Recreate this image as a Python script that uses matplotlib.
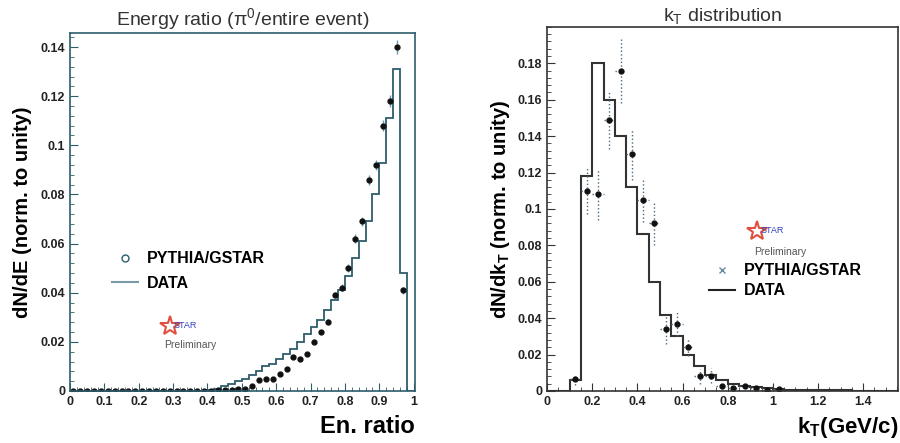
import numpy as np
import matplotlib.pyplot as plt
from matplotlib.lines import Line2D
from matplotlib.ticker import MultipleLocator

plt.rcParams['font.family'] = ['Liberation Sans', 'DejaVu Sans']
plt.rcParams['mathtext.fontset'] = 'custom'
plt.rcParams['mathtext.rm'] = 'Liberation Sans'
plt.rcParams['mathtext.bf'] = 'Liberation Sans:bold'

# ---- left panel: energy ratio, 50 bins of 0.02
en_edges = np.round(np.arange(0, 1.0001, 0.02), 3)
en_data = [0.0002] * 20 + [0.0005, 0.001, 0.002, 0.003, 0.004, 0.005, 0.0065, 0.008,
           0.010, 0.011, 0.013, 0.015, 0.017, 0.020, 0.023, 0.026, 0.029, 0.033,
           0.037, 0.041, 0.047, 0.054, 0.061, 0.069, 0.080, 0.093, 0.111, 0.131,
           0.048, 0.0]
en_mc_x = [0.01, 0.03, 0.05, 0.07, 0.09, 0.11, 0.13, 0.15, 0.17, 0.19, 0.21, 0.23,
           0.25, 0.27, 0.29, 0.31, 0.33, 0.35, 0.37, 0.39, 0.41, 0.43, 0.45, 0.47,
           0.49, 0.51, 0.53, 0.55, 0.57, 0.59, 0.61, 0.63, 0.65, 0.67, 0.69, 0.71,
           0.73, 0.75, 0.77, 0.79, 0.81, 0.83, 0.85, 0.87, 0.89, 0.91, 0.93, 0.95, 0.97]
en_mc_y = [0.0001] * 20 + [0.0002, 0.0003, 0.0004, 0.0005, 0.0007, 0.001, 0.002,
           0.0045, 0.0047, 0.005, 0.007, 0.009, 0.014, 0.013, 0.015, 0.020, 0.024,
           0.028, 0.039, 0.042, 0.050, 0.062, 0.069, 0.086, 0.092, 0.108, 0.118,
           0.140, 0.041]
en_mc_err = [0.0002] * 20 + [0.0003] * 10 + [0.0006, 0.0007, 0.0008, 0.0008, 0.0009,
            0.001, 0.001, 0.0012, 0.0013, 0.0014, 0.0015, 0.0017, 0.0018, 0.002,
            0.002, 0.0022, 0.0025, 0.003, 0.0015]
en_xticks = [0, 0.1, 0.2, 0.3, 0.4, 0.5, 0.6, 0.7, 0.8, 0.9, 1.0]
en_xlabels = ['0', '0.1', '0.2', '0.3', '0.4', '0.5', '0.6', '0.7', '0.8', '0.9', '1']
en_yticks = [0, 0.02, 0.04, 0.06, 0.08, 0.1, 0.12, 0.14]
en_ylabels = ['0', '0.02', '0.04', '0.06', '0.08', '0.1', '0.12', '0.14']

# ---- right panel: kT distribution, bins of 0.05
kt_edges = np.round(np.arange(0, 1.5501, 0.05), 3)
kt_data = [0.0, 0.0, 0.006, 0.118, 0.180, 0.160, 0.140, 0.112, 0.086, 0.060, 0.042,
           0.030, 0.020, 0.014, 0.009, 0.006, 0.004, 0.003, 0.002, 0.0015, 0.001,
           0.0008, 0.0006, 0.0005, 0.0004, 0.0003, 0.0003, 0.0002, 0.0002, 0.0001, 0.0001]
kt_mc_x = [0.125, 0.175, 0.225, 0.275, 0.325, 0.375, 0.425, 0.475, 0.525, 0.575,
           0.625, 0.675, 0.725, 0.775, 0.825, 0.875, 0.925, 0.975, 1.025]
kt_mc_y = [0.0065, 0.110, 0.108, 0.149, 0.176, 0.130, 0.105, 0.092, 0.034, 0.037,
           0.024, 0.008, 0.0085, 0.003, 0.0015, 0.0025, 0.0015, 0.0008, 0.001]
kt_mc_err = [0.003, 0.013, 0.014, 0.016, 0.018, 0.014, 0.012, 0.012, 0.008, 0.007,
             0.005, 0.004, 0.004, 0.002, 0.001, 0.001, 0.001, 0.0006, 0.0006]
kt_xticks = [0, 0.2, 0.4, 0.6, 0.8, 1.0, 1.2, 1.4]
kt_xlabels = ['0', '0.2', '0.4', '0.6', '0.8', '1', '1.2', '1.4']
kt_yticks = [0, 0.02, 0.04, 0.06, 0.08, 0.1, 0.12, 0.14, 0.16, 0.18]
kt_ylabels = ['0', '0.02', '0.04', '0.06', '0.08', '0.1', '0.12', '0.14', '0.16', '0.18']

left_col = '#2e5d6c'
right_col = '#333333'

fig = plt.figure(figsize=(9, 4.43), dpi=100)
ax1 = fig.add_axes([0.0778, 0.1174, 0.383, 0.808])
ax2 = fig.add_axes([0.608, 0.1174, 0.390, 0.822])


def style(ax, col, xmin, ymin):
    for s in ax.spines.values():
        s.set_color(col)
        s.set_linewidth(1.2)
    ax.xaxis.set_minor_locator(MultipleLocator(xmin))
    ax.yaxis.set_minor_locator(MultipleLocator(ymin))
    ax.tick_params(which='both', direction='in', color=col, labelsize=9,
                   labelcolor='#222222')
    ax.tick_params(which='major', length=6)
    ax.tick_params(which='minor', length=3)


# left
ax1.stairs(en_data, en_edges, color=left_col, lw=1.3)
ax1.errorbar(en_mc_x, en_mc_y, yerr=en_mc_err, fmt='o', ms=3.5, color='#111111',
             ecolor='#6a9ab0', elinewidth=1, ls='none')
ax1.set_xlim(0, 1.003)
ax1.set_ylim(0, 0.1457)
style(ax1, left_col, 0.02, 0.004)
ax1.set_xticks(en_xticks)
ax1.set_xticklabels(en_xlabels, fontweight='bold')
ax1.set_yticks(en_yticks)
ax1.set_yticklabels(en_ylabels, fontweight='bold')
ax1.set_title(r'Energy ratio ($\mathregular{\pi^0}$/entire event)', fontsize=14,
              color='#333333', pad=6)
ax1.set_ylabel('dN/dE (norm. to unity)', fontsize=14.5, fontweight='bold', labelpad=6)
ax1.set_xlabel('En. ratio', fontsize=17, fontweight='bold', loc='right', labelpad=5)
h1 = [Line2D([], [], marker='o', mfc='none', mec=left_col, ls='none', ms=5),
      Line2D([], [], color='#7a9aa5', lw=1.5)]
ax1.legend(h1, ['PYTHIA/GSTAR', 'DATA'], loc='upper left', bbox_to_anchor=(0.08, 0.43),
           frameon=False, prop={'weight': 'bold', 'size': 11.5}, handlelength=1.6,
           handletextpad=0.6, labelspacing=0.6)
ax1.plot([0.29], [0.0265], marker='*', ms=15, mfc='none', mec='#e05040', mew=1.5)
ax1.text(0.3, 0.0265, 'STAR', color='#3040c0', fontsize=6.5, va='center')
ax1.text(0.275, 0.0175, 'Preliminary', color='#555555', fontsize=7.5)

# right
ax2.stairs(kt_data, kt_edges, color=right_col, lw=1.5)
ax2.errorbar(kt_mc_x, kt_mc_y, yerr=kt_mc_err, xerr=0.025, fmt='o', ms=3.5,
             color='#111111', ecolor='#4a6a80', elinewidth=1, ls='none')
for line in ax2.containers[0][2]:
    line.set_linestyle(':')
ax2.set_xlim(0, 1.555)
ax2.set_ylim(0, 0.2)
style(ax2, right_col, 0.05, 0.004)
ax2.set_xticks(kt_xticks)
ax2.set_xticklabels(kt_xlabels, fontweight='bold')
ax2.set_yticks(kt_yticks)
ax2.set_yticklabels(kt_ylabels, fontweight='bold')
ax2.set_title(r'k$_\mathregular{T}$ distribution', fontsize=14, color='#333333', pad=4)
ax2.set_ylabel(r'dN/dk$_\mathbf{T}$ (norm. to unity)', fontsize=14.5, fontweight='bold')
ax2.set_xlabel(r'k$_\mathbf{T}$(GeV/c)', fontsize=16, fontweight='bold', loc='right', labelpad=5)
h2 = [Line2D([], [], marker='x', color='#6a8aa0', ls='none', ms=4),
      Line2D([], [], color='#222222', lw=1.5)]
ax2.legend(h2, ['PYTHIA/GSTAR', 'DATA'], loc='upper left', bbox_to_anchor=(0.42, 0.39),
           frameon=False, prop={'weight': 'bold', 'size': 11.5}, handlelength=1.6,
           handletextpad=0.6, labelspacing=0.3)
ax2.plot([0.93], [0.088], marker='*', ms=15, mfc='none', mec='#e05040', mew=1.5)
ax2.text(0.945, 0.088, 'STAR', color='#3040c0', fontsize=6.5, va='center')
ax2.text(0.915, 0.0745, 'Preliminary', color='#555555', fontsize=7.5)

fig.savefig('out.png', dpi=100)
